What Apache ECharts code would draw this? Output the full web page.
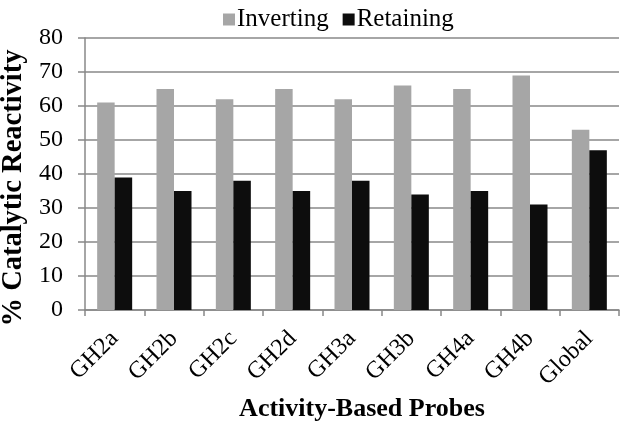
<!DOCTYPE html>
<html><head><meta charset="utf-8">
<script src="https://cdn.jsdelivr.net/npm/echarts@6/dist/echarts.min.js"></script>
<style>html,body{margin:0;padding:0;background:#fff}#c{width:629px;height:432px}</style>
</head><body><div id="c"></div>
<script>
const categories = ['GH2a','GH2b','GH2c','GH2d','GH3a','GH3b','GH4a','GH4b','Global'];
const inverting = [61,65,62,65,62,66,65,69,53];
const retaining = [39,35,38,35,38,34,35,31,47];
const yTicks = [0,10,20,30,40,50,60,70,80];

const font = 'Liberation Serif';
const chart = echarts.init(document.getElementById('c'), null, {renderer:'canvas'});
chart.setOption({
  animation:false,
  textStyle:{fontFamily:font},
  legend:{top:2, left:218, itemWidth:12, itemHeight:12, itemGap:14,
    icon:'rect',
    textStyle:{fontFamily:font, fontSize:25, color:'#000', padding:[0,0,0,-3]},
    data:['Inverting','Retaining']},
  grid:{left:85, right:10, top:38, bottom:122, containLabel:false, outerBoundsMode:'none'},
  xAxis:{type:'category', data:categories,
    name:'Activity-Based Probes', nameLocation:'middle', nameGap:86,
    nameTextStyle:{fontFamily:font, fontSize:26, fontWeight:'bold', color:'#000', padding:[0,0,0,20]},
    axisLine:{lineStyle:{color:'#888', width:1.5}},
    axisTick:{show:true, length:6, lineStyle:{color:'#888', width:1.5}},
    axisLabel:{rotate:45, fontFamily:font, fontSize:24, color:'#000', margin:25}},
  yAxis:{type:'value', min:0, max:80, interval:10,
    name:'% Catalytic Reactivity', nameLocation:'middle', nameGap:49,
    nameTextStyle:{fontFamily:font, fontSize:28.5, fontWeight:'bold', color:'#000', padding:[0,28,0,0]},
    axisLine:{show:true, lineStyle:{color:'#888', width:1.5}},
    axisTick:{show:true, length:7, lineStyle:{color:'#888', width:1.5}},
    splitLine:{lineStyle:{color:'#888', width:1.5}},
    axisLabel:{fontFamily:font, fontSize:24, color:'#000', margin:22,
      formatter:v=>yTicks.includes(v)?String(v):''}},
  series:[
    {name:'Inverting', type:'bar', data:inverting, barGap:'0%', barCategoryGap:'41%',
     itemStyle:{color:'#a6a6a6'}},
    {name:'Retaining', type:'bar', data:retaining, barGap:'0%', barCategoryGap:'41%',
     itemStyle:{color:'#0d0d0d'}}
  ]
});
</script></body></html>
